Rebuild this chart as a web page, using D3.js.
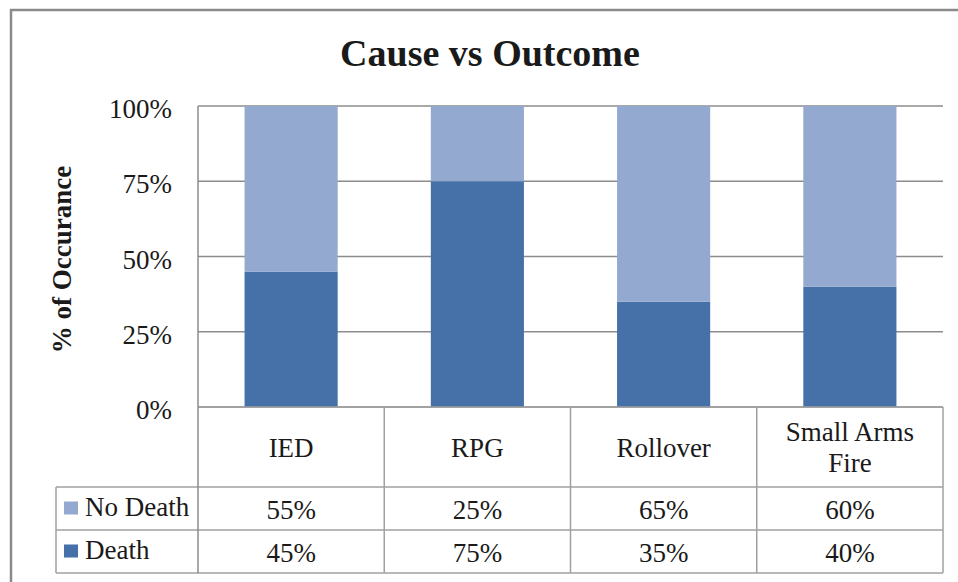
<!DOCTYPE html>
<html>
<head>
<meta charset="utf-8">
<script src="https://cdn.jsdelivr.net/npm/d3@7/dist/d3.min.js"></script>
<style>
  html, body { margin: 0; padding: 0; background: #ffffff; }
  svg { display: block; }
</style>
</head>
<body>
<svg id="chart" width="958" height="582"></svg>
<script>
// Chart data
const title = "Cause vs Outcome";
const yAxisTitle = "% of Occurance";
const categories = ["IED", "RPG", "Rollover", "Small Arms Fire"];
const categoryLines = [["IED"], ["RPG"], ["Rollover"], ["Small Arms", "Fire"]];
const seriesNames = ["No Death", "Death"];
const noDeath = [0.55, 0.25, 0.65, 0.60];
const death = [0.45, 0.75, 0.35, 0.40];
const yTicks = [0, 0.25, 0.5, 0.75, 1];

const colors = { "Death": "#4571a8", "No Death": "#93a9d0" };
const FONT = '"Liberation Serif", "Times New Roman", serif';
const INK = "#1a1a1a";

const svg = d3.select("#chart");
const W = 958, H = 582;

// Layout
const plot = { left: 198, right: 943, top: 106, bottom: 407 };
const table = { left: 56, headerBottom: 487, row1Bottom: 530, row2Bottom: 573 };

// Outer chart frame (runs past the window edge on the right and bottom)
svg.append("rect")
  .attr("x", 11).attr("y", 10)
  .attr("width", W + 20).attr("height", H + 20)
  .attr("fill", "#ffffff")
  .attr("stroke", "#8a8a8a")
  .attr("stroke-width", 2.5);

const x = d3.scaleBand().domain(categories).range([plot.left, plot.right]).paddingInner(0).paddingOuter(0);
const y = d3.scaleLinear().domain([0, 1]).range([plot.bottom, plot.top]);

// Gridlines
svg.append("g")
  .selectAll("line")
  .data(yTicks)
  .join("line")
  .attr("x1", plot.left).attr("x2", plot.right)
  .attr("y1", d => y(d)).attr("y2", d => y(d))
  .attr("stroke", "#8c8c8c")
  .attr("stroke-width", 1.5);

// Stacked bars
const rows = categories.map((c, i) => ({ cat: c, "Death": death[i], "No Death": noDeath[i] }));
const stack = d3.stack().keys(["Death", "No Death"]);
const layers = stack(rows);
const barW = x.bandwidth() * 0.5;

svg.append("g")
  .selectAll("g")
  .data(layers)
  .join("g")
  .attr("fill", d => colors[d.key])
  .selectAll("rect")
  .data(d => d)
  .join("rect")
  .attr("x", d => x(d.data.cat) + (x.bandwidth() - barW) / 2)
  .attr("width", barW)
  .attr("y", d => y(d[1]))
  .attr("height", d => y(d[0]) - y(d[1]));

// Y axis
const yAxis = d3.axisLeft(y)
  .tickValues(yTicks)
  .tickFormat(d3.format(".0%"))
  .tickSize(0)
  .tickPadding(26);
const gy = svg.append("g")
  .attr("transform", `translate(${plot.left},0)`)
  .call(yAxis);
gy.attr("font-family", null).attr("font-size", null);
gy.select(".domain").remove();
gy.selectAll("text")
  .attr("dy", null)
  .attr("y", 11.5)
  .style("font-family", FONT)
  .style("font-size", "27px")
  .attr("fill", INK);

// Y axis title
svg.append("text")
  .attr("transform", `translate(71,${(plot.top + plot.bottom) / 2 + 3}) rotate(-90)`)
  .attr("text-anchor", "middle")
  .style("font-family", FONT)
  .style("font-size", "27px")
  .style("font-weight", "bold")
  .attr("fill", INK)
  .text(yAxisTitle);

// Chart title
svg.append("text")
  .attr("x", 490).attr("y", 66)
  .attr("text-anchor", "middle")
  .style("font-family", FONT)
  .style("font-size", "38px")
  .style("font-weight", "bold")
  .attr("fill", INK)
  .text(title);

// Data table
const tableStroke = "#a0a0a0";
const tg = svg.append("g");
const hLines = [
  { y: plot.bottom, x1: plot.left },
  { y: table.headerBottom, x1: table.left },
  { y: table.row1Bottom, x1: table.left },
  { y: table.row2Bottom, x1: table.left }
];
tg.selectAll("line.h")
  .data(hLines)
  .join("line")
  .attr("class", "h")
  .attr("x1", d => d.x1).attr("x2", plot.right)
  .attr("y1", d => d.y).attr("y2", d => d.y)
  .attr("stroke", tableStroke).attr("stroke-width", 1.5);

const vEdges = categories.map(c => x(c)).concat([plot.right]);
tg.selectAll("line.v")
  .data(vEdges)
  .join("line")
  .attr("class", "v")
  .attr("x1", d => d).attr("x2", d => d)
  .attr("y1", (d, i) => i === 0 ? plot.top : plot.bottom)
  .attr("y2", table.row2Bottom)
  .attr("stroke", (d, i) => i === 0 ? "#8c8c8c" : tableStroke)
  .attr("stroke-width", 1.5);
tg.append("line")
  .attr("x1", table.left).attr("x2", table.left)
  .attr("y1", table.headerBottom).attr("y2", table.row2Bottom)
  .attr("stroke", tableStroke).attr("stroke-width", 1.5);

// Category header cells
const headers = tg.selectAll("text.cat")
  .data(categories)
  .join("text")
  .attr("class", "cat")
  .attr("text-anchor", "middle")
  .style("font-family", FONT)
  .style("font-size", "27px")
  .attr("fill", INK);
headers.each(function (c, i) {
  const lines = categoryLines[i];
  const cx = x(c) + x.bandwidth() / 2;
  const mid = (plot.bottom + table.headerBottom) / 2;
  const lh = 31;
  const base = mid + 9.5 - (lines.length - 1) * lh / 2;
  d3.select(this).selectAll("tspan")
    .data(lines)
    .join("tspan")
    .attr("x", cx)
    .attr("y", (l, j) => base + j * lh)
    .text(l => l);
});

// Value rows with legend keys
const rowDefs = [
  { name: "No Death", values: noDeath, top: table.headerBottom, bottom: table.row1Bottom },
  { name: "Death", values: death, top: table.row1Bottom, bottom: table.row2Bottom }
];
const pct = d3.format(".0%");
rowDefs.forEach(r => {
  const mid = (r.top + r.bottom) / 2;
  tg.append("g").selectAll("text")
    .data(r.values)
    .join("text")
    .attr("x", (v, i) => x(categories[i]) + x.bandwidth() / 2)
    .attr("y", mid + 10)
    .attr("text-anchor", "middle")
    .style("font-family", FONT)
    .style("font-size", "27px")
    .attr("fill", INK)
    .text(v => pct(v));
  tg.append("rect")
    .attr("x", 64).attr("y", mid - 7)
    .attr("width", 14).attr("height", 13)
    .attr("fill", colors[r.name]);
  tg.append("text")
    .attr("x", 85).attr("y", mid + 7.5)
    .style("font-family", FONT)
    .style("font-size", "27px")
    .attr("fill", INK)
    .text(r.name);
});
</script>
</body>
</html>
